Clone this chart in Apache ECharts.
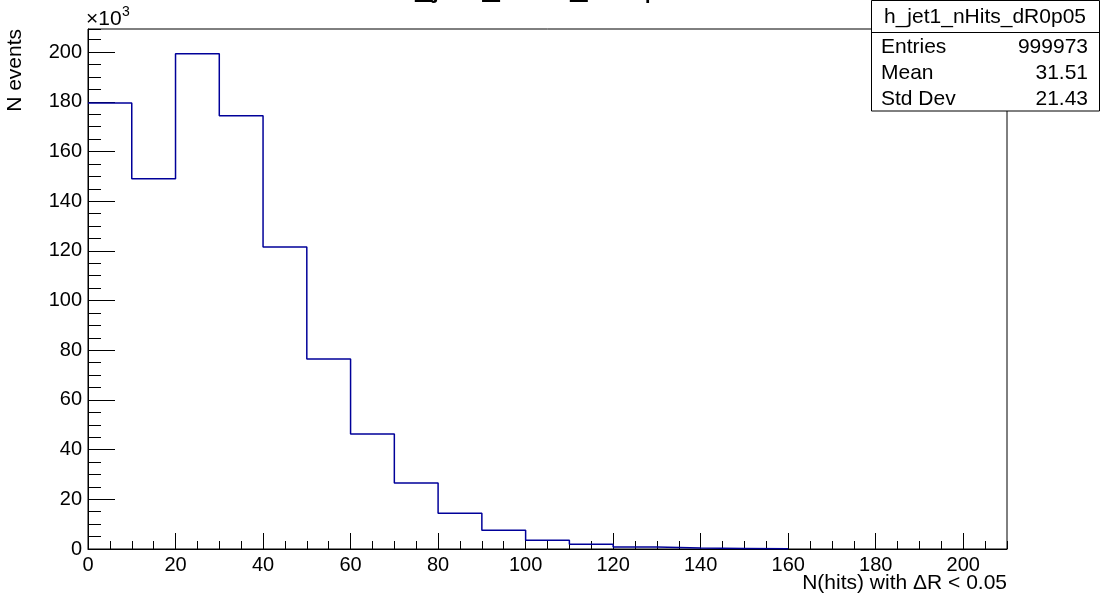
<!DOCTYPE html>
<html>
<head>
<meta charset="utf-8">
<script src="https://cdn.jsdelivr.net/npm/echarts@6/dist/echarts.min.js"></script>
<style>
html,body{margin:0;padding:0;background:#fff;}
#chart{width:1113px;height:606px;}
</style>
</head>
<body>
<div id="chart"></div>
<script>
// ---- data (counts in units of 10^3) ----
var binLowEdges = [0, 10, 20, 30, 40, 50, 60, 70, 80, 90, 100, 110, 120, 130, 140, 150];
var binWidth = 10;
var counts = [179.5, 149.0, 199.3, 174.4, 121.6, 76.5, 46.3, 26.6, 14.4, 7.5, 3.5, 1.9, 0.8, 0.45, 0.25, 0.12];
var histTitle = 'h_jet1_nHits_dR0p05';
var statsLabels = ['Entries', 'Mean', 'Std Dev'];
var statsValues = ['999973', '31.51', '21.43'];
var xTitle = 'N(hits) with \u0394R < 0.05';
var yTitle = 'N events';
var xRange = [0, 210];
var yRange = [0, 209.3];

var FAM = '"Liberation Sans", Arial, Helvetica, sans-serif';
var LINE = '#000099';

var pts = [];
for (var i = 0; i < binLowEdges.length; i++) pts.push([binLowEdges[i], counts[i]]);
pts.push([binLowEdges[binLowEdges.length - 1] + binWidth, 0]);

var chart = echarts.init(document.getElementById('chart'), null, {renderer: 'canvas'});

var gL = 88, gT = 29, gW = 919, gH = 520;

function majorAxis(range, interval, tickLen, show) {
  return {
    type: 'value', min: range[0], max: range[1], interval: interval,
    axisLine: {show: show, onZero: false, lineStyle: {color: '#000', width: 1}},
    axisTick: {show: true, inside: true, length: tickLen, lineStyle: {color: '#000', width: 1}},
    axisLabel: {show: show, color: '#000', fontFamily: FAM, fontSize: 20, margin: 6, showMaxLabel: false},
    splitLine: {show: false}
  };
}

function txt(x, y, s, size, align, extra) {
  var o = {type: 'text', x: x, y: y, z: 102, style: {text: s, fontSize: size, fontFamily: FAM, fill: '#000', textAlign: align, textVerticalAlign: 'middle'}};
  if (extra) for (var k in extra) o[k] = extra[k];
  return o;
}

var statsX = 871, statsW = 228, statsTop = 0.5, statsBot = 111, sepY = 32;
var graphics = [
  txt(547, -13, histTitle, 31, 'center'),
  txt(15, 29, yTitle, 21, 'right', {rotation: Math.PI / 2}),
  txt(1007, 583, xTitle, 21, 'right'),
  txt(86, 19, '\u00d710', 21, 'left'),
  txt(122, 12, '3', 14, 'left'),
  {type: 'rect', z: 100, shape: {x: statsX + 0.5, y: statsTop, width: statsW, height: statsBot - statsTop}, style: {fill: '#fff', stroke: '#000', lineWidth: 1}},
  {type: 'line', z: 101, shape: {x1: statsX + 0.5, y1: sepY + 0.5, x2: statsX + statsW + 0.5, y2: sepY + 0.5}, style: {stroke: '#000', lineWidth: 1}},
  txt(statsX + statsW / 2, 17, histTitle, 21, 'center')
];
var rowY = [47, 73, 99];
for (var r = 0; r < statsLabels.length; r++) {
  graphics.push(txt(881, rowY[r], statsLabels[r], 21, 'left'));
  graphics.push(txt(1088, rowY[r], statsValues[r], 21, 'right'));
}

var xMajor = majorAxis(xRange, 20, 16, true); xMajor.position = 'bottom';
var xMinor = majorAxis(xRange, 5, 8, false); xMinor.position = 'bottom';
var yMajor = majorAxis(yRange, 20, 27, true); yMajor.position = 'left';
var yMinor = majorAxis(yRange, 5, 13, false); yMinor.position = 'left';

chart.setOption({
  animation: false,
  backgroundColor: '#fff',
  grid: {left: gL, top: gT, width: gW, height: gH, show: true, borderColor: '#000', borderWidth: 1, backgroundColor: 'transparent', containLabel: false, outerBoundsMode: 'none'},
  xAxis: [xMajor, xMinor],
  yAxis: [yMajor, yMinor],
  series: [{
    type: 'line', xAxisIndex: 0, yAxisIndex: 0, step: 'end', symbol: 'none',
    data: pts, lineStyle: {color: LINE, width: 1.5}, itemStyle: {color: LINE}, clip: true
  }],
  graphic: graphics
});
</script>
</body>
</html>
